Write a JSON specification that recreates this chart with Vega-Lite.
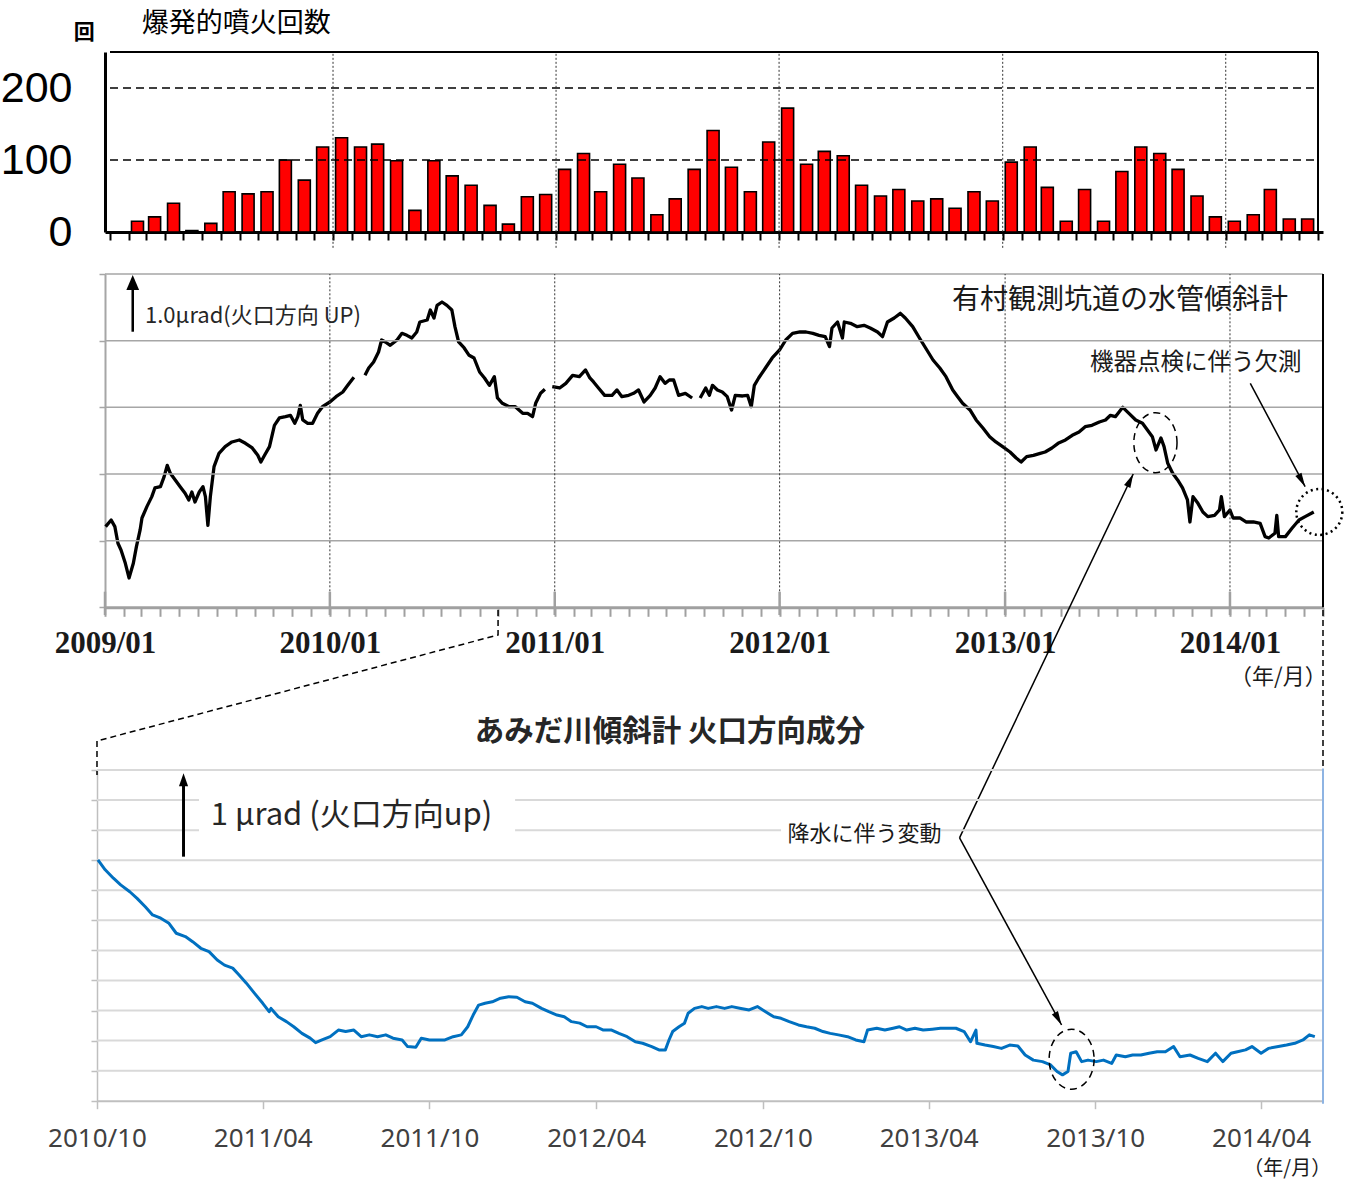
{
"$schema": "https://vega.github.io/schema/vega-lite/v6.json",
"width": 1353,
"height": 1185,
"padding": 0,
"autosize": {"type": "none"},
"background": "white",
"config": {"view": {"stroke": null}, "font": "Noto Sans CJK JP", "axis": {"grid": false}},
"datasets": {
"bars": [
{"d":"2009-01-15","n":0},{"d":"2009-02-15","n":15},{"d":"2009-03-15","n":21},{"d":"2009-04-15","n":40},{"d":"2009-05-15","n":2},{"d":"2009-06-15","n":12},{"d":"2009-07-15","n":56},{"d":"2009-08-15","n":53},{"d":"2009-09-15","n":56},{"d":"2009-10-15","n":100},{"d":"2009-11-15","n":72},{"d":"2009-12-15","n":118},
{"d":"2010-01-15","n":131},{"d":"2010-02-15","n":118},{"d":"2010-03-15","n":122},{"d":"2010-04-15","n":99},{"d":"2010-05-15","n":30},{"d":"2010-06-15","n":99},{"d":"2010-07-15","n":78},{"d":"2010-08-15","n":65},{"d":"2010-09-15","n":37},{"d":"2010-10-15","n":11},{"d":"2010-11-15","n":49},{"d":"2010-12-15","n":52},
{"d":"2011-01-15","n":87},{"d":"2011-02-15","n":109},{"d":"2011-03-15","n":56},{"d":"2011-04-15","n":94},{"d":"2011-05-15","n":75},{"d":"2011-06-15","n":24},{"d":"2011-07-15","n":46},{"d":"2011-08-15","n":87},{"d":"2011-09-15","n":141},{"d":"2011-10-15","n":90},{"d":"2011-11-15","n":56},{"d":"2011-12-15","n":125},
{"d":"2012-01-15","n":172},{"d":"2012-02-15","n":94},{"d":"2012-03-15","n":112},{"d":"2012-04-15","n":106},{"d":"2012-05-15","n":65},{"d":"2012-06-15","n":50},{"d":"2012-07-15","n":59},{"d":"2012-08-15","n":43},{"d":"2012-09-15","n":46},{"d":"2012-10-15","n":33},{"d":"2012-11-15","n":56},{"d":"2012-12-15","n":43},
{"d":"2013-01-15","n":97},{"d":"2013-02-15","n":118},{"d":"2013-03-15","n":62},{"d":"2013-04-15","n":15},{"d":"2013-05-15","n":59},{"d":"2013-06-15","n":15},{"d":"2013-07-15","n":84},{"d":"2013-08-15","n":118},{"d":"2013-09-15","n":109},{"d":"2013-10-15","n":87},{"d":"2013-11-15","n":50},{"d":"2013-12-15","n":21},
{"d":"2014-01-15","n":15},{"d":"2014-02-15","n":24},{"d":"2014-03-15","n":59},{"d":"2014-04-15","n":18},{"d":"2014-05-15","n":18}
],
"arimura": [
{"d":"2009-01-02","v":1.21,"s":1},{"d":"2009-01-11","v":1.31,"s":1},{"d":"2009-01-17","v":1.21,"s":1},{"d":"2009-01-22","v":0.96,"s":1},{"d":"2009-01-27","v":0.86,"s":1},{"d":"2009-02-03","v":0.66,"s":1},{"d":"2009-02-09","v":0.44,"s":1},{"d":"2009-02-16","v":0.66,"s":1},{"d":"2009-02-21","v":0.91,"s":1},{"d":"2009-02-27","v":1.16,"s":1},
{"d":"2009-03-02","v":1.34,"s":1},{"d":"2009-03-10","v":1.51,"s":1},{"d":"2009-03-18","v":1.66,"s":1},{"d":"2009-03-23","v":1.79,"s":1},{"d":"2009-04-01","v":1.81,"s":1},{"d":"2009-04-07","v":1.96,"s":1},{"d":"2009-04-12","v":2.13,"s":1},{"d":"2009-04-17","v":2.01,"s":1},{"d":"2009-04-25","v":1.91,"s":1},{"d":"2009-05-03","v":1.81,"s":1},
{"d":"2009-05-11","v":1.71,"s":1},{"d":"2009-05-17","v":1.61,"s":1},{"d":"2009-05-22","v":1.73,"s":1},{"d":"2009-05-27","v":1.58,"s":1},{"d":"2009-06-03","v":1.73,"s":1},{"d":"2009-06-09","v":1.81,"s":1},{"d":"2009-06-13","v":1.66,"s":1},{"d":"2009-06-17","v":1.23,"s":1},{"d":"2009-06-21","v":1.66,"s":1},{"d":"2009-06-27","v":2.11,"s":1},
{"d":"2009-07-05","v":2.31,"s":1},{"d":"2009-07-15","v":2.41,"s":1},{"d":"2009-07-26","v":2.48,"s":1},{"d":"2009-08-07","v":2.51,"s":1},{"d":"2009-08-17","v":2.46,"s":1},{"d":"2009-08-28","v":2.39,"s":1},{"d":"2009-09-06","v":2.28,"s":1},{"d":"2009-09-11","v":2.18,"s":1},{"d":"2009-09-17","v":2.28,"s":1},{"d":"2009-09-25","v":2.41,"s":1},
{"d":"2009-10-03","v":2.73,"s":1},{"d":"2009-10-11","v":2.84,"s":1},{"d":"2009-10-21","v":2.86,"s":1},{"d":"2009-10-29","v":2.88,"s":1},{"d":"2009-11-05","v":2.76,"s":1},{"d":"2009-11-10","v":2.86,"s":1},{"d":"2009-11-14","v":3.03,"s":1},{"d":"2009-11-18","v":2.81,"s":1},{"d":"2009-11-26","v":2.76,"s":1},{"d":"2009-12-04","v":2.76,"s":1},
{"d":"2009-12-12","v":2.91,"s":1},{"d":"2009-12-20","v":3.01,"s":1},{"d":"2010-01-01","v":3.08,"s":1},{"d":"2010-01-11","v":3.16,"s":1},{"d":"2010-01-22","v":3.23,"s":1},{"d":"2010-01-30","v":3.33,"s":1},{"d":"2010-02-09","v":3.45,"s":1},
{"d":"2010-02-27","v":3.48,"s":2},{"d":"2010-03-05","v":3.59,"s":2},{"d":"2010-03-13","v":3.68,"s":2},{"d":"2010-03-21","v":3.83,"s":2},{"d":"2010-03-26","v":4.01,"s":2},{"d":"2010-04-01","v":3.98,"s":2},{"d":"2010-04-09","v":3.93,"s":2},{"d":"2010-04-20","v":4.01,"s":2},{"d":"2010-04-28","v":4.11,"s":2},{"d":"2010-05-06","v":4.08,"s":2},
{"d":"2010-05-14","v":4.04,"s":2},{"d":"2010-05-22","v":4.13,"s":2},{"d":"2010-05-27","v":4.28,"s":2},{"d":"2010-06-08","v":4.31,"s":2},{"d":"2010-06-13","v":4.46,"s":2},{"d":"2010-06-19","v":4.34,"s":2},{"d":"2010-06-24","v":4.53,"s":2},{"d":"2010-07-02","v":4.58,"s":2},{"d":"2010-07-10","v":4.53,"s":2},{"d":"2010-07-18","v":4.46,"s":2},
{"d":"2010-07-23","v":4.21,"s":2},{"d":"2010-07-29","v":3.98,"s":2},{"d":"2010-08-07","v":3.89,"s":2},{"d":"2010-08-15","v":3.78,"s":2},{"d":"2010-08-23","v":3.74,"s":2},{"d":"2010-09-01","v":3.53,"s":2},{"d":"2010-09-09","v":3.44,"s":2},{"d":"2010-09-17","v":3.33,"s":2},{"d":"2010-09-25","v":3.46,"s":2},{"d":"2010-09-30","v":3.14,"s":2},
{"d":"2010-10-08","v":3.06,"s":2},{"d":"2010-10-19","v":3.01,"s":2},{"d":"2010-10-29","v":3.01,"s":2},{"d":"2010-11-10","v":2.91,"s":2},{"d":"2010-11-18","v":2.91,"s":2},{"d":"2010-11-26","v":2.86,"s":2},{"d":"2010-12-01","v":3.06,"s":2},{"d":"2010-12-09","v":3.21,"s":2},{"d":"2010-12-16","v":3.27,"s":2},
{"d":"2010-12-28","v":3.31,"s":3},{"d":"2011-01-09","v":3.29,"s":3},{"d":"2011-01-19","v":3.36,"s":3},{"d":"2011-01-30","v":3.48,"s":3},{"d":"2011-02-10","v":3.46,"s":3},{"d":"2011-02-20","v":3.56,"s":3},{"d":"2011-02-27","v":3.44,"s":3},{"d":"2011-03-05","v":3.38,"s":3},{"d":"2011-03-13","v":3.29,"s":3},{"d":"2011-03-23","v":3.18,"s":3},
{"d":"2011-04-04","v":3.18,"s":3},{"d":"2011-04-12","v":3.26,"s":3},{"d":"2011-04-20","v":3.16,"s":3},{"d":"2011-05-01","v":3.18,"s":3},{"d":"2011-05-09","v":3.21,"s":3},{"d":"2011-05-17","v":3.26,"s":3},{"d":"2011-05-26","v":3.08,"s":3},{"d":"2011-06-05","v":3.18,"s":3},{"d":"2011-06-13","v":3.29,"s":3},{"d":"2011-06-21","v":3.46,"s":3},
{"d":"2011-06-29","v":3.36,"s":3},{"d":"2011-07-06","v":3.41,"s":3},{"d":"2011-07-13","v":3.41,"s":3},{"d":"2011-07-21","v":3.18,"s":3},{"d":"2011-08-01","v":3.21,"s":3},{"d":"2011-08-12","v":3.14,"s":3},
{"d":"2011-08-25","v":3.14,"s":4},{"d":"2011-09-03","v":3.29,"s":4},{"d":"2011-09-09","v":3.18,"s":4},{"d":"2011-09-14","v":3.33,"s":4},{"d":"2011-09-22","v":3.26,"s":4},{"d":"2011-09-30","v":3.23,"s":4},{"d":"2011-10-08","v":3.16,"s":4},{"d":"2011-10-15","v":2.96,"s":4},{"d":"2011-10-21","v":3.18,"s":4},{"d":"2011-11-02","v":3.17,"s":4},
{"d":"2011-11-10","v":3.18,"s":4},{"d":"2011-11-16","v":3.01,"s":4},{"d":"2011-11-21","v":3.33,"s":4},{"d":"2011-11-28","v":3.44,"s":4},{"d":"2011-12-09","v":3.59,"s":4},{"d":"2011-12-20","v":3.74,"s":4},{"d":"2012-01-01","v":3.86,"s":4},{"d":"2012-01-11","v":4.01,"s":4},{"d":"2012-01-22","v":4.11,"s":4},{"d":"2012-02-03","v":4.13,"s":4},
{"d":"2012-02-13","v":4.13,"s":4},{"d":"2012-02-24","v":4.11,"s":4},{"d":"2012-03-05","v":4.08,"s":4},{"d":"2012-03-15","v":4.06,"s":4},{"d":"2012-03-22","v":3.91,"s":4},{"d":"2012-03-26","v":4.19,"s":4},{"d":"2012-04-04","v":4.28,"s":4},{"d":"2012-04-12","v":4.04,"s":4},{"d":"2012-04-15","v":4.28,"s":4},{"d":"2012-04-25","v":4.26,"s":4},
{"d":"2012-05-06","v":4.21,"s":4},{"d":"2012-05-17","v":4.23,"s":4},{"d":"2012-05-27","v":4.19,"s":4},{"d":"2012-06-08","v":4.13,"s":4},{"d":"2012-06-16","v":4.06,"s":4},{"d":"2012-06-24","v":4.28,"s":4},{"d":"2012-07-05","v":4.34,"s":4},{"d":"2012-07-15","v":4.41,"s":4},{"d":"2012-07-23","v":4.34,"s":4},{"d":"2012-08-04","v":4.21,"s":4},
{"d":"2012-08-15","v":4.04,"s":4},{"d":"2012-08-25","v":3.89,"s":4},{"d":"2012-09-06","v":3.71,"s":4},{"d":"2012-09-17","v":3.59,"s":4},{"d":"2012-09-27","v":3.46,"s":4},{"d":"2012-10-08","v":3.26,"s":4},{"d":"2012-10-16","v":3.16,"s":4},{"d":"2012-10-24","v":3.06,"s":4},{"d":"2012-11-05","v":2.96,"s":4},{"d":"2012-11-15","v":2.81,"s":4},
{"d":"2012-11-26","v":2.69,"s":4},{"d":"2012-12-07","v":2.56,"s":4},{"d":"2012-12-17","v":2.48,"s":4},{"d":"2012-12-28","v":2.41,"s":4},{"d":"2013-01-09","v":2.33,"s":4},{"d":"2013-01-19","v":2.24,"s":4},{"d":"2013-01-27","v":2.18,"s":4},{"d":"2013-02-05","v":2.26,"s":4},{"d":"2013-02-16","v":2.28,"s":4},{"d":"2013-02-27","v":2.31,"s":4},
{"d":"2013-03-07","v":2.33,"s":4},{"d":"2013-03-18","v":2.39,"s":4},{"d":"2013-03-28","v":2.46,"s":4},{"d":"2013-04-09","v":2.51,"s":4},{"d":"2013-04-20","v":2.58,"s":4},{"d":"2013-05-01","v":2.63,"s":4},{"d":"2013-05-11","v":2.71,"s":4},{"d":"2013-05-22","v":2.73,"s":4},{"d":"2013-06-03","v":2.78,"s":4},{"d":"2013-06-13","v":2.81,"s":4},
{"d":"2013-06-21","v":2.88,"s":4},{"d":"2013-06-29","v":2.86,"s":4},{"d":"2013-07-05","v":2.93,"s":4},{"d":"2013-07-11","v":3.0,"s":4},{"d":"2013-07-21","v":2.91,"s":4},{"d":"2013-08-01","v":2.81,"s":4},{"d":"2013-08-12","v":2.76,"s":4},{"d":"2013-08-20","v":2.66,"s":4},{"d":"2013-08-28","v":2.56,"s":4},{"d":"2013-09-03","v":2.36,"s":4},
{"d":"2013-09-11","v":2.54,"s":4},{"d":"2013-09-16","v":2.41,"s":4},{"d":"2013-09-22","v":2.16,"s":4},{"d":"2013-09-30","v":2.01,"s":4},{"d":"2013-10-08","v":1.91,"s":4},{"d":"2013-10-16","v":1.79,"s":4},{"d":"2013-10-24","v":1.61,"s":4},{"d":"2013-10-28","v":1.28,"s":4},{"d":"2013-11-02","v":1.66,"s":4},{"d":"2013-11-10","v":1.56,"s":4},
{"d":"2013-11-18","v":1.43,"s":4},{"d":"2013-11-26","v":1.36,"s":4},{"d":"2013-12-07","v":1.38,"s":4},{"d":"2013-12-15","v":1.46,"s":4},{"d":"2013-12-18","v":1.66,"s":4},{"d":"2013-12-23","v":1.36,"s":4},{"d":"2014-01-01","v":1.46,"s":4},{"d":"2014-01-06","v":1.34,"s":4},{"d":"2014-01-17","v":1.34,"s":4},{"d":"2014-01-27","v":1.28,"s":4},
{"d":"2014-02-08","v":1.28,"s":4},{"d":"2014-02-19","v":1.26,"s":4},{"d":"2014-02-27","v":1.06,"s":4},{"d":"2014-03-05","v":1.04,"s":4},{"d":"2014-03-15","v":1.11,"s":4},{"d":"2014-03-18","v":1.38,"s":4},{"d":"2014-03-21","v":1.06,"s":4},{"d":"2014-04-01","v":1.06,"s":4},{"d":"2014-04-12","v":1.19,"s":4},{"d":"2014-04-23","v":1.31,"s":4},
{"d":"2014-05-03","v":1.36,"s":4},{"d":"2014-05-17","v":1.43,"s":4}
],
"amida": [
{"d":"2010-10-02","w":8.01},{"d":"2010-10-10","w":7.68},{"d":"2010-10-19","w":7.40},{"d":"2010-10-27","w":7.18},{"d":"2010-11-06","w":6.95},{"d":"2010-11-14","w":6.73},{"d":"2010-11-23","w":6.45},{"d":"2010-12-01","w":6.18},{"d":"2010-12-10","w":6.07},{"d":"2010-12-19","w":5.90},
{"d":"2010-12-27","w":5.57},{"d":"2011-01-06","w":5.46},{"d":"2011-01-14","w":5.29},{"d":"2011-01-23","w":5.07},{"d":"2011-02-01","w":4.96},{"d":"2011-02-10","w":4.68},{"d":"2011-02-18","w":4.51},{"d":"2011-02-27","w":4.41},{"d":"2011-03-06","w":4.18},{"d":"2011-03-14","w":3.91},
{"d":"2011-03-23","w":3.57},{"d":"2011-04-01","w":3.24},{"d":"2011-04-08","w":2.96},{"d":"2011-04-10","w":3.07},{"d":"2011-04-18","w":2.79},{"d":"2011-04-27","w":2.63},{"d":"2011-05-05","w":2.46},{"d":"2011-05-14","w":2.24},{"d":"2011-05-23","w":2.08},{"d":"2011-05-29","w":1.93},
{"d":"2011-06-05","w":2.02},{"d":"2011-06-14","w":2.13},{"d":"2011-06-23","w":2.35},{"d":"2011-07-01","w":2.30},{"d":"2011-07-10","w":2.35},{"d":"2011-07-18","w":2.13},{"d":"2011-07-27","w":2.19},{"d":"2011-08-05","w":2.13},{"d":"2011-08-14","w":2.19},{"d":"2011-08-22","w":2.08},
{"d":"2011-09-01","w":2.02},{"d":"2011-09-07","w":1.80},{"d":"2011-09-16","w":1.78},{"d":"2011-09-22","w":2.08},{"d":"2011-10-01","w":2.02},{"d":"2011-10-10","w":2.02},{"d":"2011-10-18","w":2.02},{"d":"2011-10-27","w":2.13},{"d":"2011-11-05","w":2.19},{"d":"2011-11-12","w":2.46},
{"d":"2011-11-18","w":2.85},{"d":"2011-11-24","w":3.18},{"d":"2011-12-01","w":3.24},{"d":"2011-12-09","w":3.29},{"d":"2011-12-18","w":3.41},{"d":"2011-12-27","w":3.46},{"d":"2012-01-05","w":3.44},{"d":"2012-01-14","w":3.29},{"d":"2012-01-22","w":3.24},{"d":"2012-02-01","w":3.07},
{"d":"2012-02-09","w":2.96},{"d":"2012-02-18","w":2.85},{"d":"2012-02-26","w":2.79},{"d":"2012-03-05","w":2.63},{"d":"2012-03-14","w":2.58},{"d":"2012-03-22","w":2.46},{"d":"2012-04-01","w":2.46},{"d":"2012-04-09","w":2.35},{"d":"2012-04-18","w":2.35},{"d":"2012-04-26","w":2.24},
{"d":"2012-05-05","w":2.13},{"d":"2012-05-14","w":1.96},{"d":"2012-05-22","w":1.91},{"d":"2012-06-01","w":1.80},{"d":"2012-06-09","w":1.69},{"d":"2012-06-16","w":1.69},{"d":"2012-06-20","w":2.02},{"d":"2012-06-24","w":2.30},{"d":"2012-07-01","w":2.46},{"d":"2012-07-07","w":2.58},
{"d":"2012-07-11","w":2.91},{"d":"2012-07-18","w":3.07},{"d":"2012-07-26","w":3.13},{"d":"2012-08-02","w":3.07},{"d":"2012-08-11","w":3.13},{"d":"2012-08-20","w":3.07},{"d":"2012-08-28","w":3.13},{"d":"2012-09-07","w":3.07},{"d":"2012-09-16","w":3.02},{"d":"2012-09-25","w":3.13},
{"d":"2012-10-04","w":2.96},{"d":"2012-10-13","w":2.79},{"d":"2012-10-21","w":2.74},{"d":"2012-10-30","w":2.63},{"d":"2012-11-09","w":2.52},{"d":"2012-11-18","w":2.46},{"d":"2012-11-27","w":2.41},{"d":"2012-12-06","w":2.30},{"d":"2012-12-14","w":2.24},{"d":"2012-12-23","w":2.19},
{"d":"2013-01-02","w":2.13},{"d":"2013-01-11","w":2.02},{"d":"2013-01-20","w":1.96},{"d":"2013-01-24","w":2.35},{"d":"2013-02-03","w":2.41},{"d":"2013-02-12","w":2.35},{"d":"2013-02-21","w":2.41},{"d":"2013-02-28","w":2.46},{"d":"2013-03-08","w":2.35},{"d":"2013-03-17","w":2.41},
{"d":"2013-03-26","w":2.35},{"d":"2013-04-05","w":2.38},{"d":"2013-04-14","w":2.41},{"d":"2013-04-23","w":2.41},{"d":"2013-05-01","w":2.41},{"d":"2013-05-10","w":2.30},{"d":"2013-05-17","w":1.96},{"d":"2013-05-23","w":2.35},{"d":"2013-05-24","w":1.91},{"d":"2013-06-02","w":1.85},
{"d":"2013-06-11","w":1.80},{"d":"2013-06-20","w":1.74},{"d":"2013-06-29","w":1.85},{"d":"2013-07-08","w":1.82},{"d":"2013-07-16","w":1.52},{"d":"2013-07-25","w":1.35},{"d":"2013-08-04","w":1.30},{"d":"2013-08-13","w":1.19},{"d":"2013-08-20","w":0.97},{"d":"2013-08-26","w":0.86},
{"d":"2013-09-01","w":0.97},{"d":"2013-09-04","w":1.58},{"d":"2013-09-10","w":1.63},{"d":"2013-09-16","w":1.30},{"d":"2013-09-23","w":1.35},{"d":"2013-10-02","w":1.30},{"d":"2013-10-10","w":1.35},{"d":"2013-10-19","w":1.24},{"d":"2013-10-24","w":1.52},{"d":"2013-11-03","w":1.46},
{"d":"2013-11-11","w":1.52},{"d":"2013-11-20","w":1.52},{"d":"2013-11-29","w":1.58},{"d":"2013-12-08","w":1.63},{"d":"2013-12-17","w":1.63},{"d":"2013-12-26","w":1.80},{"d":"2014-01-02","w":1.46},{"d":"2014-01-13","w":1.52},{"d":"2014-01-22","w":1.41},{"d":"2014-02-01","w":1.30},
{"d":"2014-02-10","w":1.58},{"d":"2014-02-18","w":1.30},{"d":"2014-02-27","w":1.58},{"d":"2014-03-06","w":1.63},{"d":"2014-03-15","w":1.69},{"d":"2014-03-22","w":1.80},{"d":"2014-04-01","w":1.58},{"d":"2014-04-09","w":1.74},{"d":"2014-04-20","w":1.80},{"d":"2014-04-29","w":1.85},
{"d":"2014-05-08","w":1.91},{"d":"2014-05-17","w":2.02},{"d":"2014-05-24","w":2.19},{"d":"2014-05-30","w":2.13}
],
"yearsFrom2010": [{"d":"2010-01-01"},{"d":"2011-01-01"},{"d":"2012-01-01"},{"d":"2013-01-01"},{"d":"2014-01-01"}],
"yearsFrom2009": [{"d":"2009-01-01"},{"d":"2010-01-01"},{"d":"2011-01-01"},{"d":"2012-01-01"},{"d":"2013-01-01"},{"d":"2014-01-01"}]
},
"resolve": {"scale": {"x": "independent", "y": "independent"}, "axis": {"x": "independent", "y": "independent"}},
"layer": [
{
"layer": [
{"data": {"name": "bars"},
 "mark": {"type": "bar", "width": 12, "fill": "#ff0000", "stroke": "black", "strokeWidth": 1.6},
 "encoding": {
  "x": {"field": "d", "type": "temporal",
        "scale": {"type":"utc","domain":[{"year":2009,"month":1,"date":1,"utc":true},{"year":2014,"month":6,"date":1,"utc":true}],"range":[105,1323],"nice":false},
        "axis": {"orient": "bottom", "offset": -953, "labels": false, "tickCount": {"interval": "month", "step": 1}, "tickSize": 8, "tickColor": "black", "tickWidth": 2, "domainColor": "black", "domainWidth": 3, "title": null, "grid": false}},
  "y": {"field": "n", "type": "quantitative",
        "scale": {"domain":[0,250],"range":[232,52],"nice":false,"zero":false},
        "axis": {"orient": "left", "offset": -105, "values": [0,100,200], "ticks": false, "labelFont": "Liberation Sans", "labelFontSize": 43, "labelColor": "black", "labelPadding": 33, "domainColor": "black", "domainWidth": 3, "title": null, "grid": false}}}},
{"data": {"values": [{"n":100},{"n":200}]},
 "mark": {"type": "rule", "color": "black", "strokeWidth": 1.5, "strokeDash": [8,5]},
 "encoding": {
  "x": {"datum": {"year":2009,"month":1,"date":1,"utc":true}, "type": "temporal"},
  "x2": {"datum": {"year":2014,"month":6,"date":1,"utc":true}},
  "y": {"field": "n", "type": "quantitative"}}},
{"data": {"name": "yearsFrom2010"},
 "mark": {"type": "rule", "color": "#333333", "strokeWidth": 1, "strokeDash": [2,2]},
 "encoding": {
  "x": {"field": "d", "type": "temporal"},
  "y": {"datum": -22, "type": "quantitative"},
  "y2": {"datum": 250}}},
{"data": {"values": [{}]},
 "mark": {"type": "rule", "color": "black", "strokeWidth": 2},
 "encoding": {
  "x": {"datum": {"year":2009,"month":1,"date":1,"utc":true}, "type": "temporal"},
  "x2": {"datum": {"year":2014,"month":6,"date":1,"utc":true}},
  "y": {"datum": 250, "type": "quantitative"}}},
{"data": {"values": [{}]},
 "mark": {"type": "rule", "color": "black", "strokeWidth": 2},
 "encoding": {
  "x": {"datum": {"year":2014,"month":6,"date":1,"utc":true}, "type": "temporal"},
  "y": {"datum": 0, "type": "quantitative"},
  "y2": {"datum": 250}}},
{"data": {"values": [{"d":"2008-11-20","n":277,"t":"回"}]},
 "mark": {"type": "text", "fontSize": 21, "fontWeight": "bold", "align": "center", "baseline": "middle", "color": "black"},
 "encoding": {
  "x": {"field": "d", "type": "temporal"},
  "y": {"field": "n", "type": "quantitative"},
  "text": {"field": "t"}}},
{"data": {"values": [{"d":"2009-02-22","n":289,"t":"爆発的噴火回数"}]},
 "mark": {"type": "text", "fontSize": 27, "align": "left", "baseline": "middle", "color": "black"},
 "encoding": {
  "x": {"field": "d", "type": "temporal"},
  "y": {"field": "n", "type": "quantitative"},
  "text": {"field": "t"}}}
]
},
{
"layer": [
{"data": {"name": "arimura"},
 "mark": {"type": "line", "color": "black", "strokeWidth": 3.3, "strokeJoin": "round"},
 "encoding": {
  "x": {"field": "d", "type": "temporal",
        "scale": {"type":"utc","domain":[{"year":2009,"month":1,"date":1,"utc":true},{"year":2014,"month":6,"date":1,"utc":true}],"range":[105,1323],"nice":false},
        "axis": {"orient": "bottom", "offset": -577.7, "tickCount": {"interval": "month", "step": 1}, "labelExpr": "utcmonth(datum.value) === 0 ? utcFormat(datum.value, '%Y/%m') : ''", "labelOverlap": false, "labelFlush": false, "labelFont": "Liberation Serif", "labelFontSize": 31, "labelFontWeight": "bold", "labelColor": "#1a1a1a", "labelPadding": 12, "tickSize": 9, "tickColor": "#a0a0a0", "tickWidth": 2, "domainColor": "#a0a0a0", "domainWidth": 3, "title": null, "grid": false}},
  "y": {"field": "v", "type": "quantitative",
        "scale": {"domain":[0,5],"range":[607.3,274],"nice":false,"zero":false},
        "axis": {"orient": "left", "offset": -105, "values": [0,1,2,3,4,5], "labels": false, "tickSize": 6, "tickColor": "#a6a6a6", "tickWidth": 1.5, "domainColor": "#a6a6a6", "domainWidth": 2, "title": null, "grid": false}},
  "detail": {"field": "s"}}},
{"data": {"values": [{"v":1},{"v":2},{"v":3},{"v":4},{"v":5}]},
 "mark": {"type": "rule", "color": "#a6a6a6", "strokeWidth": 1.5},
 "encoding": {
  "x": {"datum": {"year":2009,"month":1,"date":1,"utc":true}, "type": "temporal"},
  "x2": {"datum": {"year":2014,"month":6,"date":1,"utc":true}},
  "y": {"field": "v", "type": "quantitative"}}},
{"data": {"name": "yearsFrom2010"},
 "mark": {"type": "rule", "color": "#333333", "strokeWidth": 1, "strokeDash": [2,2]},
 "encoding": {
  "x": {"field": "d", "type": "temporal"},
  "y": {"datum": 0, "type": "quantitative"},
  "y2": {"datum": 5}}},
{"data": {"name": "yearsFrom2009"},
 "mark": {"type": "rule", "color": "#a0a0a0", "strokeWidth": 2.5},
 "encoding": {
  "x": {"field": "d", "type": "temporal"},
  "y": {"datum": 0.234, "type": "quantitative"},
  "y2": {"datum": -0.116}}},
{"data": {"values": [{}]},
 "mark": {"type": "rule", "color": "black", "strokeWidth": 2},
 "encoding": {
  "x": {"datum": {"year":2014,"month":6,"date":1,"utc":true}, "type": "temporal"},
  "y": {"datum": 0, "type": "quantitative"},
  "y2": {"datum": 5}}},
{"data": {"values": [{"d":"2012-10-07","v":4.59,"t":"有村観測坑道の水管傾斜計"}]},
 "mark": {"type": "text", "fontSize": 28, "align": "left", "baseline": "middle", "color": "#1a1a1a"},
 "encoding": {"x": {"field": "d", "type": "temporal"}, "y": {"field": "v", "type": "quantitative"}, "text": {"field": "t"}}},
{"data": {"values": [{"d":"2009-03-07","v":4.37,"t":"1.0μrad(火口方向 UP)"}]},
 "mark": {"type": "text", "fontSize": 22, "align": "left", "baseline": "middle", "color": "#262626"},
 "encoding": {"x": {"field": "d", "type": "temporal"}, "y": {"field": "v", "type": "quantitative"}, "text": {"field": "t"}}},
{"data": {"values": [{"d":"2013-05-19","v":3.66,"t":"機器点検に伴う欠測"}]},
 "mark": {"type": "text", "fontSize": 23.5, "align": "left", "baseline": "middle", "color": "#1a1a1a"},
 "encoding": {"x": {"field": "d", "type": "temporal"}, "y": {"field": "v", "type": "quantitative"}, "text": {"field": "t"}}},
{"data": {"values": [{"d":"2014-06-07","v":-1.05,"t":"（年/月）"}]},
 "mark": {"type": "text", "fontSize": 22, "align": "right", "baseline": "middle", "color": "#1a1a1a"},
 "encoding": {"x": {"field": "d", "type": "temporal"}, "y": {"field": "v", "type": "quantitative"}, "text": {"field": "t"}}},
{"data": {"values": [{"d":"2009-02-15","v":4.134,"v2":4.8}]},
 "mark": {"type": "rule", "color": "black", "strokeWidth": 2.5},
 "encoding": {"x": {"field": "d", "type": "temporal"}, "y": {"field": "v", "type": "quantitative"}, "y2": {"field": "v2"}}},
{"data": {"values": [{"d":"2009-02-15","v":4.984}]},
 "mark": {"type": "point", "shape": "M0,0L0.85,2L-0.85,2Z", "size": 225, "filled": true, "color": "black", "opacity": 1, "strokeWidth": 0},
 "encoding": {"x": {"field": "d", "type": "temporal"}, "y": {"field": "v", "type": "quantitative"}}},
{"data": {"values": [{"d":"2014-02-03","v":3.36,"d2":"2014-05-03","v2":1.81},{"d":"2013-07-28","v":2.0,"d2":"2012-10-19","v2":-3.46}]},
 "mark": {"type": "rule", "color": "black", "strokeWidth": 1.5},
 "encoding": {"x": {"field": "d", "type": "temporal"}, "x2": {"field": "d2"}, "y": {"field": "v", "type": "quantitative"}, "y2": {"field": "v2"}}},
{"data": {"values": [{"d":"2014-05-03","v":1.81}]},
 "mark": {"type": "point", "shape": "M0,0L0.5,2L-0.5,2Z", "size": 196, "angle": 151.3, "filled": true, "color": "black", "opacity": 1, "strokeWidth": 0},
 "encoding": {"x": {"field": "d", "type": "temporal"}, "y": {"field": "v", "type": "quantitative"}}},
{"data": {"values": [{"d":"2013-07-28","v":2.0}]},
 "mark": {"type": "point", "shape": "M0,0L0.5,2L-0.5,2Z", "size": 196, "angle": 25.5, "filled": true, "color": "black", "opacity": 1, "strokeWidth": 0},
 "encoding": {"x": {"field": "d", "type": "temporal"}, "y": {"field": "v", "type": "quantitative"}}},
{"data": {"values": [{"d":"2013-09-02","v":2.47}]},
 "mark": {"type": "point", "shape": "M0.72,0C0.72,0.552,0.398,1,0,1C-0.398,1,-0.72,0.552,-0.72,0C-0.72,-0.552,-0.398,-1,0,-1C0.398,-1,0.72,-0.552,0.72,0Z", "size": 3600, "filled": false, "stroke": "black", "strokeWidth": 1.5, "strokeDash": [7,5], "opacity": 1},
 "encoding": {"x": {"field": "d", "type": "temporal"}, "y": {"field": "v", "type": "quantitative"}}},
{"data": {"values": [{"d":"2014-05-26","v":1.43}]},
 "mark": {"type": "point", "shape": "circle", "size": 2116, "filled": false, "stroke": "black", "strokeWidth": 2.5, "strokeDash": [2,3.5], "opacity": 1},
 "encoding": {"x": {"field": "d", "type": "temporal"}, "y": {"field": "v", "type": "quantitative"}}},
{"data": {"values": [
  {"d":"2010-10-01","v":-0.04,"k":1,"o":1},{"d":"2010-10-01","v":-0.415,"k":1,"o":2},{"d":"2008-12-19","v":-2.005,"k":1,"o":3},{"d":"2008-12-19","v":-2.515,"k":1,"o":4},
  {"d":"2014-06-01","v":-0.04,"k":2,"o":1},{"d":"2014-06-01","v":-2.515,"k":2,"o":2}]},
 "mark": {"type": "line", "color": "black", "strokeWidth": 1.5, "strokeDash": [6,4]},
 "encoding": {"x": {"field": "d", "type": "temporal"}, "y": {"field": "v", "type": "quantitative"}, "detail": {"field": "k"}, "order": {"field": "o"}}}
]
},
{
"layer": [
{"data": {"values": [{"w":1},{"w":2},{"w":3},{"w":4},{"w":5},{"w":6},{"w":7},{"w":8},{"w":9},{"w":10},{"w":11}]},
 "mark": {"type": "rule", "color": "#d9d9d9", "strokeWidth": 2},
 "encoding": {
  "x": {"datum": {"year":2010,"month":10,"date":1,"utc":true}, "type": "temporal",
        "scale": {"type":"utc","domain":[{"year":2010,"month":10,"date":1,"utc":true},{"year":2014,"month":6,"date":8,"utc":true}],"range":[97,1323],"nice":false},
        "axis": {"orient": "bottom", "offset": -84.3, "values": [{"year":2010,"month":10,"date":1,"utc":true},{"year":2011,"month":4,"date":1,"utc":true},{"year":2011,"month":10,"date":1,"utc":true},{"year":2012,"month":4,"date":1,"utc":true},{"year":2012,"month":10,"date":1,"utc":true},{"year":2013,"month":4,"date":1,"utc":true},{"year":2013,"month":10,"date":1,"utc":true},{"year":2014,"month":4,"date":1,"utc":true}], "format": "%Y/%m", "labelFont": "Noto Sans", "labelFontSize": 26, "labelColor": "#404040", "labelPadding": 17, "labelFlush": false, "labelOverlap": false, "tickSize": 8, "tickColor": "#bfbfbf", "tickWidth": 1.5, "domainColor": "#bfbfbf", "domainWidth": 2, "title": null, "grid": false}},
  "x2": {"datum": {"year":2014,"month":6,"date":8,"utc":true}},
  "y": {"field": "w", "type": "quantitative",
        "scale": {"domain":[0,11],"range":[1100.7,770],"nice":false,"zero":false},
        "axis": {"orient": "left", "offset": -97, "values": [0,1,2,3,4,5,6,7,8,9,10,11], "labels": false, "tickSize": 6, "tickColor": "#bfbfbf", "tickWidth": 1.5, "domainColor": "#bfbfbf", "domainWidth": 1.5, "title": null, "grid": false}}}},
{"data": {"values": [{"d":"2011-01-21","d2":"2012-01-03","w":8.5,"w2":10.45},{"d":"2012-10-21","d2":"2013-04-14","w":8.41,"w2":9.27}]},
 "mark": {"type": "rect", "fill": "white"},
 "encoding": {"x": {"field": "d", "type": "temporal"}, "x2": {"field": "d2"}, "y": {"field": "w", "type": "quantitative"}, "y2": {"field": "w2"}}},
{"data": {"name": "amida"},
 "mark": {"type": "line", "color": "#0070c0", "strokeWidth": 3, "strokeJoin": "round"},
 "encoding": {
  "x": {"field": "d", "type": "temporal"},
  "y": {"field": "w", "type": "quantitative"}}},
{"data": {"values": [{}]},
 "mark": {"type": "rule", "color": "#8eb4e3", "strokeWidth": 2},
 "encoding": {
  "x": {"datum": {"year":2014,"month":6,"date":8,"utc":true}, "type": "temporal"},
  "y": {"datum": -0.1, "type": "quantitative"},
  "y2": {"datum": 11.05}}},
{"data": {"values": [{"d":"2012-06-21","w":12.27,"t":"あみだ川傾斜計 火口方向成分"}]},
 "mark": {"type": "text", "fontSize": 29.5, "fontWeight": "bold", "align": "center", "baseline": "middle", "color": "#262626"},
 "encoding": {"x": {"field": "d", "type": "temporal"}, "y": {"field": "w", "type": "quantitative"}, "text": {"field": "t"}}},
{"data": {"values": [{"d":"2011-02-03","w":9.47,"t":"1 μrad (火口方向up)"}]},
 "mark": {"type": "text", "fontSize": 31, "align": "left", "baseline": "middle", "color": "#262626"},
 "encoding": {"x": {"field": "d", "type": "temporal"}, "y": {"field": "w", "type": "quantitative"}, "text": {"field": "t"}}},
{"data": {"values": [{"d":"2012-10-28","w":8.87,"t":"降水に伴う変動"}]},
 "mark": {"type": "text", "fontSize": 22, "align": "left", "baseline": "middle", "color": "#1a1a1a"},
 "encoding": {"x": {"field": "d", "type": "temporal"}, "y": {"field": "w", "type": "quantitative"}, "text": {"field": "t"}}},
{"data": {"values": [{"d":"2014-06-17","w":-2.27,"t":"（年/月）"}]},
 "mark": {"type": "text", "fontSize": 20, "align": "right", "baseline": "middle", "color": "#1a1a1a"},
 "encoding": {"x": {"field": "d", "type": "temporal"}, "y": {"field": "w", "type": "quantitative"}, "text": {"field": "t"}}},
{"data": {"values": [{"d":"2011-01-04","w":8.117,"w2":10.5}]},
 "mark": {"type": "rule", "color": "black", "strokeWidth": 3},
 "encoding": {"x": {"field": "d", "type": "temporal"}, "y": {"field": "w", "type": "quantitative"}, "y2": {"field": "w2"}}},
{"data": {"values": [{"d":"2011-01-04","w":10.89}]},
 "mark": {"type": "point", "shape": "M0,0L0.7,2L-0.7,2Z", "size": 169, "filled": true, "color": "black", "opacity": 1, "strokeWidth": 0},
 "encoding": {"x": {"field": "d", "type": "temporal"}, "y": {"field": "w", "type": "quantitative"}}},
{"data": {"values": [{"d":"2013-05-05","w":8.739,"d2":"2013-08-25","w2":2.518}]},
 "mark": {"type": "rule", "color": "black", "strokeWidth": 1.5},
 "encoding": {"x": {"field": "d", "type": "temporal"}, "x2": {"field": "d2"}, "y": {"field": "w", "type": "quantitative"}, "y2": {"field": "w2"}}},
{"data": {"values": [{"d":"2013-08-25","w":2.518}]},
 "mark": {"type": "point", "shape": "M0,0L0.5,2L-0.5,2Z", "size": 196, "angle": 151.4, "filled": true, "color": "black", "opacity": 1, "strokeWidth": 0},
 "encoding": {"x": {"field": "d", "type": "temporal"}, "y": {"field": "w", "type": "quantitative"}}},
{"data": {"values": [{"d":"2013-09-05","w":1.38}]},
 "mark": {"type": "point", "shape": "M0.75,0C0.75,0.552,0.414,1,0,1C-0.414,1,-0.75,0.552,-0.75,0C-0.75,-0.552,-0.414,-1,0,-1C0.414,-1,0.75,-0.552,0.75,0Z", "size": 3600, "filled": false, "stroke": "black", "strokeWidth": 1.5, "strokeDash": [7,5], "opacity": 1},
 "encoding": {"x": {"field": "d", "type": "temporal"}, "y": {"field": "w", "type": "quantitative"}}}
]
}
]
}
